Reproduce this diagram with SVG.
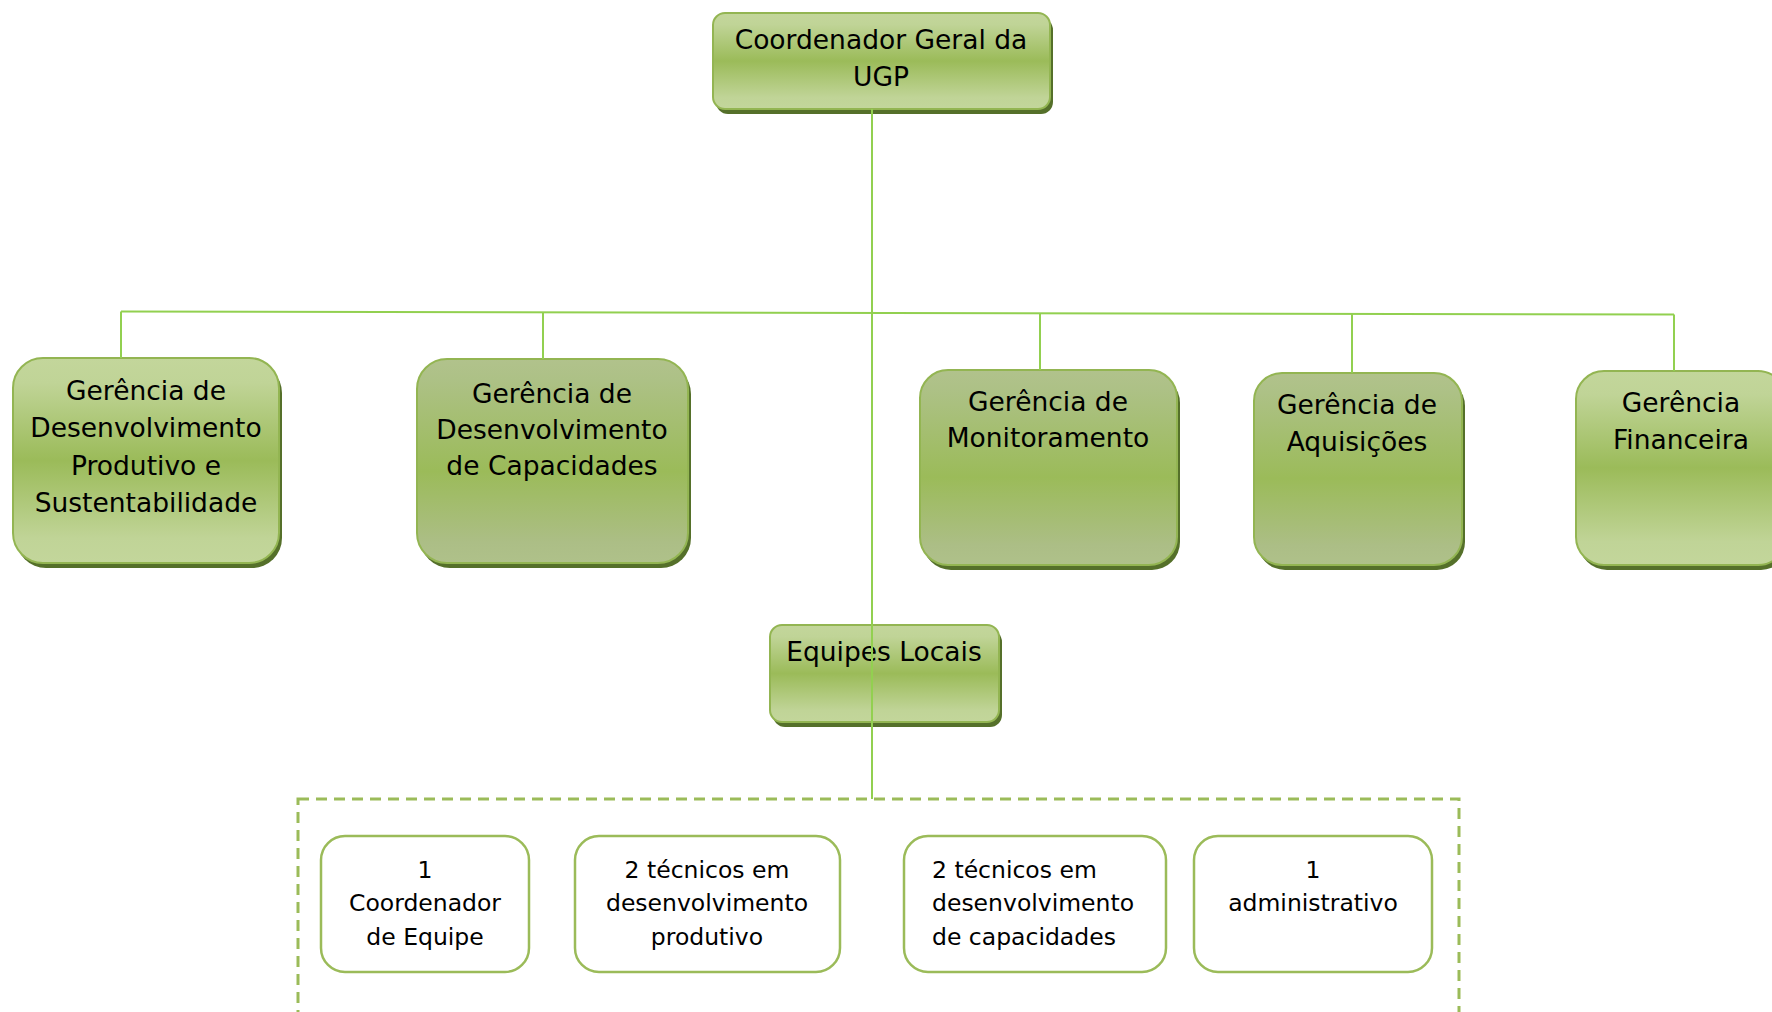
<svg xmlns="http://www.w3.org/2000/svg" width="1772" height="1012" viewBox="0 0 1772 1012">
<defs>
<linearGradient id="gLight" x1="0" y1="0" x2="0" y2="1">
<stop offset="0" stop-color="#c3d69b"/>
<stop offset="0.12" stop-color="#c0d497"/>
<stop offset="0.5" stop-color="#9bbb59"/>
<stop offset="0.88" stop-color="#c0d497"/>
<stop offset="1" stop-color="#c3d69b"/>
</linearGradient>
<linearGradient id="gMuted" x1="0" y1="0" x2="0" y2="1">
<stop offset="0" stop-color="#b1c28c"/>
<stop offset="0.1" stop-color="#adc186"/>
<stop offset="0.55" stop-color="#9bbb59"/>
<stop offset="0.9" stop-color="#acbe86"/>
<stop offset="1" stop-color="#afc18a"/>
</linearGradient>
</defs>
<style>
.shadow{fill:#55702a}
.light{fill:url(#gLight);stroke:#93b552;stroke-width:2}
.muted{fill:url(#gMuted);stroke:#93b552;stroke-width:2}
.t{font-family:"DejaVu Sans",Verdana,sans-serif;font-size:26.5px;fill:#000;text-anchor:middle}
.s{font-family:"DejaVu Sans",Verdana,sans-serif;font-size:23.5px;fill:#000;text-anchor:middle}
.sl{text-anchor:start}
.box{fill:#fff;stroke:#9bbb59;stroke-width:2.5}
.dash{fill:none;stroke:#9bbb59;stroke-width:3;stroke-dasharray:11 7}
.conn{fill:none;stroke:#92d050;stroke-width:2}
</style>

<rect class="dash" x="298" y="799" width="1161" height="300"/>

<g id="coordenador">
<rect class="shadow" x="716" y="18" width="337" height="96" rx="12"/>
<rect class="light" x="713" y="13" width="337" height="96" rx="12"/>
<text class="t" x="881" y="49">Coordenador Geral da</text>
<text class="t" x="881" y="86">UGP</text>
</g>

<g id="ger-prod">
<rect class="shadow" x="16" y="363" width="266" height="205" rx="30"/>
<rect class="light" x="13" y="358" width="266" height="205" rx="30"/>
<text class="t" x="146" y="400">Gerência de</text>
<text class="t" x="146" y="437">Desenvolvimento</text>
<text class="t" x="146" y="475">Produtivo e</text>
<text class="t" x="146" y="512">Sustentabilidade</text>
</g>

<g id="ger-cap">
<rect class="shadow" x="420" y="364" width="271" height="204" rx="30"/>
<rect class="muted" x="417" y="359" width="271" height="204" rx="30"/>
<text class="t" x="552" y="403">Gerência de</text>
<text class="t" x="552" y="439">Desenvolvimento</text>
<text class="t" x="552" y="475">de Capacidades</text>
</g>

<g id="ger-mon">
<rect class="shadow" x="923" y="375" width="257" height="195" rx="28"/>
<rect class="muted" x="920" y="370" width="257" height="195" rx="28"/>
<text class="t" x="1048" y="411">Gerência de</text>
<text class="t" x="1048" y="447">Monitoramento</text>
</g>

<g id="ger-aq">
<rect class="shadow" x="1257" y="378" width="208" height="192" rx="28"/>
<rect class="muted" x="1254" y="373" width="208" height="192" rx="28"/>
<text class="t" x="1357" y="414">Gerência de</text>
<text class="t" x="1357" y="451">Aquisições</text>
</g>

<g id="ger-fin">
<rect class="shadow" x="1579" y="376" width="210" height="194" rx="28"/>
<rect class="light" x="1576" y="371" width="210" height="194" rx="28"/>
<text class="t" x="1681" y="412">Gerência</text>
<text class="t" x="1681" y="449">Financeira</text>
</g>

<g id="equipes">
<rect class="shadow" x="773" y="630" width="229" height="97" rx="12"/>
<rect class="light" x="770" y="625" width="229" height="97" rx="12"/>
<text class="t" x="884" y="661">Equipes Locais</text>
</g>

<g id="connectors">
<line class="conn" x1="121" y1="311.5" x2="1674" y2="314.5"/>
<line class="conn" x1="121" y1="311.5" x2="121" y2="358"/>
<line class="conn" x1="543" y1="312.3" x2="543" y2="359"/>
<line class="conn" x1="1040" y1="313.3" x2="1040" y2="370"/>
<line class="conn" x1="1352" y1="313.9" x2="1352" y2="373"/>
<line class="conn" x1="1674" y1="314.5" x2="1674" y2="371"/>
<line class="conn" x1="872" y1="109" x2="872" y2="799"/>
</g>

<g id="coord-equipe">
<rect class="box" x="321" y="836" width="208" height="136" rx="24"/>
<text class="s" x="425" y="878">1</text>
<text class="s" x="425" y="911">Coordenador</text>
<text class="s" x="425" y="945">de Equipe</text>
</g>

<g id="tec-prod">
<rect class="box" x="575" y="836" width="265" height="136" rx="24"/>
<text class="s" x="707" y="878">2 técnicos em</text>
<text class="s" x="707" y="911">desenvolvimento</text>
<text class="s" x="707" y="945">produtivo</text>
</g>

<g id="tec-cap">
<rect class="box" x="904" y="836" width="262" height="136" rx="24"/>
<text class="s sl" x="932" y="878">2 técnicos em</text>
<text class="s sl" x="932" y="911">desenvolvimento</text>
<text class="s sl" x="932" y="945">de capacidades</text>
</g>

<g id="administrativo">
<rect class="box" x="1194" y="836" width="238" height="136" rx="24"/>
<text class="s" x="1313" y="878">1</text>
<text class="s" x="1313" y="911">administrativo</text>
</g>
</svg>
